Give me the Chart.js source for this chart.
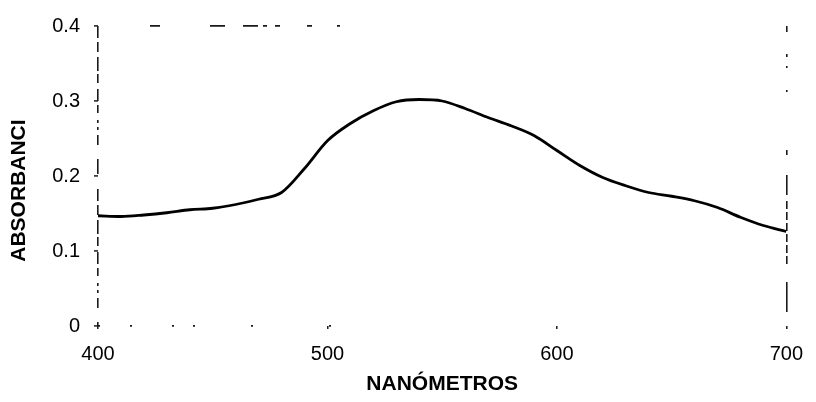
<!DOCTYPE html>
<html>
<head>
<meta charset="utf-8">
<script src="https://cdn.jsdelivr.net/npm/chart.js@4"></script>
<style>
  html, body { margin: 0; padding: 0; background: #fff; }
  #wrap { width: 816px; height: 402px; }
</style>
</head>
<body>
<div id="wrap"><canvas id="absChart" width="816" height="402"></canvas></div>
<script>
// absorbance spectrum, values
const wavelengths = [400, 410, 420, 430, 440, 450, 460, 470, 480, 490, 500, 510, 520, 530, 540, 550,
                     560, 570, 580, 590, 600, 610, 620, 630, 640, 650, 660, 670, 680, 690, 700];
const absorbance  = [0.147, 0.146, 0.148, 0.151, 0.155, 0.157, 0.162, 0.169, 0.178, 0.210, 0.247, 0.270,
                     0.287, 0.299, 0.302, 0.300, 0.290, 0.278, 0.267, 0.254, 0.234, 0.214, 0.198, 0.187,
                     0.178, 0.173, 0.167, 0.158, 0.145, 0.134, 0.126];
const xTicks = [400, 500, 600, 700];
const yTicks = [0, 0.1, 0.2, 0.3, 0.4];
const yTickLabels = ['0', '0.1', '0.2', '0.3', '0.4'];

const font = 'Liberation Sans, Arial, sans-serif';
const ink = '#1a1a1a';
const pad = '\u00a0\u00a0\u00a0\u00a0\u00a0';   // nudges the y title down a bit like the scan

const points = wavelengths.map((w, i) => ({ x: w, y: absorbance[i] }));

// the frame in the scan is broken up, so the edge grid lines get patchy dashes
const leftDash   = [12, 4, 10, 5, 14, 3, 9, 6, 12, 4, 8, 7, 3, 4, 3, 5, 10, 14, 15, 15];
const rightDash  = [6, 22, 3, 9, 2, 22, 2, 58, 5, 20, 20, 6, 8, 3, 8, 3, 8, 3, 8, 3, 8, 3, 8, 3,
                    0, 15, 30, 15, 5, 100];
const bottomDash = [2, 30, 2, 40, 2, 19, 2, 56, 2, 76, 2, 1000];
const topDash    = [0, 52, 10, 50, 15, 18, 15, 5, 4, 8, 5, 27, 5, 25, 3, 1000];

const lastX = xTicks.length - 1, lastY = yTicks.length - 1;
const xEdgeDash  = c => c.index === 0 ? leftDash : (c.index === lastX ? rightDash : []);
const yEdgeDash  = c => c.index === 0 ? bottomDash : (c.index === lastY ? topDash : []);
const xEdgeColor = c => (c.index === 0 || c.index === lastX) ? ink : 'rgba(0,0,0,0)';
const yEdgeColor = c => (c.index === 0 || c.index === lastY) ? ink : 'rgba(0,0,0,0)';

new Chart(document.getElementById('absChart').getContext('2d'), {
  type: 'line',
  data: {
    datasets: [{
      data: points,
      borderColor: '#000',
      borderWidth: 2.8,
      pointRadius: 0,
      tension: 0.4,
      cubicInterpolationMode: 'monotone',
      fill: false
    }]
  },
  options: {
    responsive: false,
    animation: false,
    layout: { padding: { top: 25, right: 20, left: 0, bottom: 0 } },
    plugins: { legend: { display: false }, tooltip: { enabled: false } },
    scales: {
      x: {
        type: 'linear', min: 400, max: 700,
        afterBuildTicks: s => { s.ticks = xTicks.map(v => ({ value: v })); },
        afterFit: s => { s.height = 76; },
        grid: { color: xEdgeColor, lineWidth: 1.6, tickLength: 3, tickColor: ink, tickWidth: 1.5 },
        border: { display: false, dash: xEdgeDash },
        ticks: { color: '#000', font: { family: font, size: 20 }, padding: 13, maxRotation: 0 },
        title: { display: true, text: 'NANÓMETROS', color: '#000',
                 font: { family: font, size: 21, weight: 'bold' }, padding: { top: 0, bottom: 5 } }
      },
      y: {
        min: 0, max: 0.4,
        afterBuildTicks: s => { s.ticks = yTicks.map(v => ({ value: v })); },
        afterFit: s => { s.width = 98; },
        grid: { color: yEdgeColor, lineWidth: 1.8, tickLength: 4, tickColor: ink, tickWidth: 1.5 },
        border: { display: false, dash: yEdgeDash },
        ticks: { color: '#000', font: { family: font, size: 20 }, padding: 14,
                 callback: (v, i) => yTickLabels[i] },
        title: { display: true, text: 'ABSORBANCI' + pad, color: '#000',
                 font: { family: font, size: 21, weight: 'bold' }, padding: { top: 7, bottom: 0 } }
      }
    }
  }
});
</script>
</body>
</html>
